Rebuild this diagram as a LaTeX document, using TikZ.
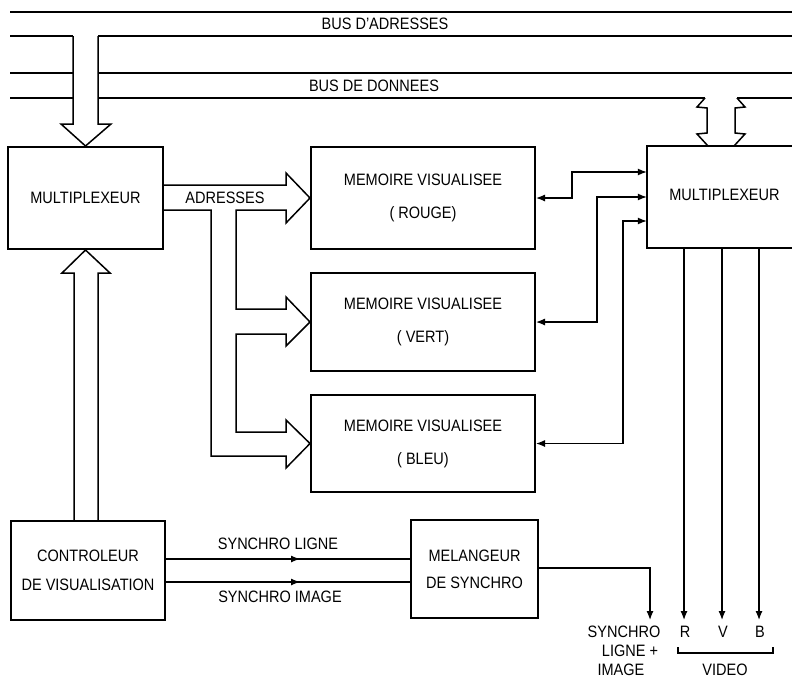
\documentclass[tikz,border=0pt]{standalone}
\usepackage{fontspec}
\setmainfont[FakeStretch=0.88]{Liberation Sans}
\usetikzlibrary{arrows.meta}
\newcommand{\lblfont}{\fontsize{16.5}{18}\selectfont}
\begin{document}
\begin{tikzpicture}[x=1pt,y=-1pt,
  box/.style={draw,line width=2pt,inner sep=0pt,align=center},
  boxline/.style={line width=2pt},
  conn/.style={line width=1.2pt},
  busline/.style={line width=1.1pt},
  fat/.style={line width=1.5pt,line join=miter},
  tipend/.style={-{Latex[length=9pt,width=7pt]}},
  bitip/.style={{Latex[length=9pt,width=7pt]}-{Latex[length=9pt,width=7pt]}},
  lbl/.style={inner sep=0pt,font=\lblfont}]
\useasboundingbox (0,0) rectangle (792,680);

% buses
\draw[busline] (10,12) -- (792,12);
\draw[busline] (10,36) -- (73,36);
\draw[busline] (98,36) -- (792,36);
\draw[busline] (10,73) -- (73,73);
\draw[busline] (98,73) -- (792,73);
\draw[busline] (10,98) -- (73,98);
\draw[busline] (98,98) -- (705,98);
\draw[busline] (737,98) -- (792,98);
\node[lbl] (busadr) at (385,24) {BUS D'ADRESSES};
\node[lbl] (busdon) at (374,86) {BUS DE DONNEES};

% boxes
\node[box,minimum width=155pt,minimum height=102pt,font=\lblfont] (mux1) at (85.5,198) {MULTIPLEXEUR};
\node[box,minimum width=154pt,minimum height=99pt,font=\fontsize{16.5}{29}\selectfont] (ctrl) at (88,570.5) {CONTROLEUR\\DE VISUALISATION};
\node[box,minimum width=224pt,minimum height=102pt,font=\fontsize{16.5}{33}\selectfont] (rouge) at (423,198) {MEMOIRE VISUALISEE\\( ROUGE)};
\node[box,minimum width=224pt,minimum height=98pt,font=\fontsize{16.5}{33}\selectfont] (vert) at (423,322) {MEMOIRE VISUALISEE\\( VERT)};
\node[box,minimum width=224pt,minimum height=97pt,font=\fontsize{16.5}{33}\selectfont] (bleu) at (423,443.5) {MEMOIRE VISUALISEE\\( BLEU)};
\node[box,minimum width=127pt,minimum height=98pt,font=\fontsize{16.5}{27}\selectfont] (mel) at (474.5,569) {MELANGEUR\\DE SYNCHRO};
\node[inner sep=0pt,minimum width=153pt,minimum height=102pt] (mux2) at (723.5,197) {};
\draw[boxline] (mux2.north east) -- (mux2.north west) -- (mux2.south west) -- (mux2.south east);
\node[lbl] (mux2lbl) at (724.5,195) {MULTIPLEXEUR};

% fat arrow from address bus to multiplexer
\draw[fat] (73,36) -- (73,124) -- (61,124) -- (mux1.north) -- (111,124) -- (98,124) -- (98,36);
% fat arrow from controller to multiplexer
\draw[fat] (74,521) -- (74,273) -- (62,273) -- (mux1.south) -- (110,273) -- (98,273) -- (98,521);

% addresses fat arrow to memories
\draw[fat] (163,185) -- (286,185) -- (286,173) -- (rouge.west) -- (286,223) -- (286,210)
  -- (236,210) -- (236,309) -- (286,309) -- (286,297) -- (vert.west) -- (286,346) -- (286,334)
  -- (236,334) -- (236,432) -- (286,432) -- (286,420) -- (bleu.west) -- (286,468) -- (286,456)
  -- (211,456) -- (211,210) -- (163,210);
\node[lbl] (adr) at (225,198) {ADRESSES};

% data bus double arrow
\draw[fat] (705,98) -- (697,107) -- (707,108) -- (707,133) -- (697,134) -- (708,146);
\draw[fat] (737,98) -- (745,107) -- (735,108) -- (735,133) -- (745,134) -- (734,146);

% memory <-> multiplexer
\draw[conn,bitip] (rouge.east) -- (572,198) |- (mux2.west |- 0,172);
\draw[conn,bitip] (vert.east) -- (597,322) |- (mux2.west);
\draw[conn,bitip] (bleu.east) -- (623,443.5) |- (mux2.west |- 0,221);

% video outputs
\coordinate (rend) at (684,620);
\coordinate (vend) at (722,620);
\coordinate (bend) at (759,620);
\draw[conn,tipend] (mux2.south -| rend) -- (rend);
\draw[conn,tipend] (mux2.south -| vend) -- (vend);
\draw[conn,tipend] (mux2.south -| bend) -- (bend);
\node[lbl] (lr) at (685,632) {R};
\node[lbl] (lv) at (723,632) {V};
\node[lbl] (lb) at (760,632) {B};
\draw[conn] (678,647) -- (678,653) -- (773,653) -- (773,647);
\node[lbl] (video) at (725,670) {VIDEO};

% synchro lines
\coordinate (sl) at (300,559);
\coordinate (si) at (300,582);
\draw[conn] (ctrl.east |- sl) -- (mel.west |- sl);
\draw[conn,tipend] (ctrl.east |- sl) -- (sl);
\draw[conn] (ctrl.east |- si) -- (mel.west |- si);
\draw[conn,tipend] (ctrl.east |- si) -- (si);
\node[lbl] (lsl) at (278,544) {SYNCHRO LIGNE};
\node[lbl] (lsi) at (280,597) {SYNCHRO IMAGE};

% melangeur output
\coordinate (send) at (650,620);
\draw[conn,tipend] (mel.east |- 0,568) -| (send);
\node[lbl] (s1) at (624,632) {SYNCHRO};
\node[lbl] (s2) at (630,651) {LIGNE +};
\node[lbl] (s3) at (621,670) {IMAGE};
\end{tikzpicture}
\end{document}
